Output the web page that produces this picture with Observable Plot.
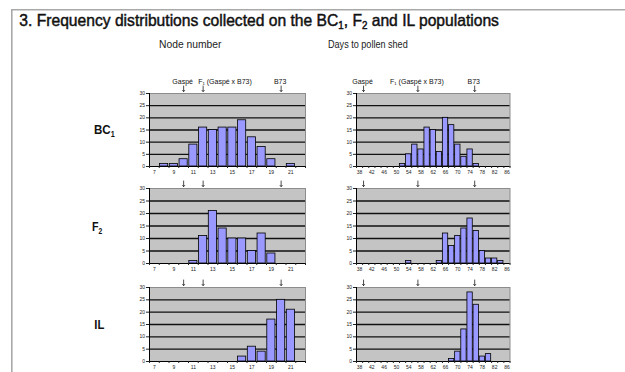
<!DOCTYPE html>
<html>
<head>
<meta charset="utf-8">
<script src="https://cdn.jsdelivr.net/npm/d3@7"></script>
<script src="https://cdn.jsdelivr.net/npm/@observablehq/plot@0.6"></script>
<style>
  html, body { margin: 0; padding: 0; background: #fff; }
  #root { position: relative; width: 625px; height: 372px; overflow: hidden; font-family: "Liberation Sans", Arial, sans-serif; }
  #root svg { position: absolute; }
</style>
</head>
<body>
<div id="root"></div>
<script>
// ---------- data ----------
const nodeCats = [7, 8, 9, 10, 11, 12, 13, 14, 15, 16, 17, 18, 19, 20, 21, 22];
const nodeTicks = [7, 9, 11, 13, 15, 17, 19, 21];
const dayCats = [38, 40, 42, 44, 46, 48, 50, 52, 54, 56, 58, 60, 62, 64, 66, 68, 70, 72, 74, 76, 78, 80, 82, 84, 86];
const dayTicks = [38, 42, 46, 50, 54, 58, 62, 66, 70, 74, 78, 82, 86];
const yTicks = [0, 5, 10, 15, 20, 25, 30];

const bc1Node = [0, 1, 1, 3, 9, 16, 15, 16, 16, 19, 12, 8, 3, 0, 1, 0];
const f2Node  = [0, 0, 0, 0, 1, 11, 21, 14, 10, 10, 5, 12, 4, 0, 0, 0];
const ilNode  = [0, 0, 0, 0, 0, 0, 0, 0, 0, 2, 6, 4, 17, 25, 21, 0];

const bc1Days = [0, 0, 0, 0, 0, 0, 0, 1, 5, 9, 7, 16, 15, 6, 20, 17, 9, 4, 7, 1, 0, 0, 0, 0, 0];
const f2Days  = [0, 0, 0, 0, 0, 0, 0, 0, 1, 0, 0, 0, 0, 1, 12, 7, 11, 14, 18, 13, 5, 2, 2, 1, 0];
const ilDays  = [0, 0, 0, 0, 0, 0, 0, 0, 0, 0, 0, 0, 0, 0, 0, 1, 4, 13, 28, 23, 2, 3, 0, 0, 0];

const parentNames = ["Gaspé", "F₁ (Gaspé x B73)", "B73"];
const nodeParents = [10, 12, 20];
const dayParents = [39.3, 57, 75.5];

const populations = [["BC", "1"], ["F", "2"], ["IL", ""]];
const columnTitles = ["Node number", "Days to pollen shed"];

// ---------- layout ----------
const W = 625, H = 372;
const FONT = "Liberation Sans, Arial, sans-serif";
const rows = [{y0: 92.7, h: 73}, {y0: 188.3, h: 75}, {y0: 287, h: 74}];
const cols = [{x0: 149.3, w: 156}, {x0: 356.2, w: 153.5}];
const root = document.getElementById("root");

const bg = d3.select(root).append("svg")
  .attr("width", W).attr("height", H)
  .style("left", "0px").style("top", "0px");

bg.append("path").attr("d", `M11.8,${H} V9.8 H${W}`)
  .attr("fill", "none").attr("stroke", "#a9a9a9").attr("stroke-width", 1.6);

function fit(sel, x, y, width) {
  const bb = sel.node().getBBox();
  const s = width / bb.width;
  sel.attr("transform", `translate(${x - bb.x * s},${y}) scale(${s},1)`);
}

// title
const title = bg.append("text").attr("font-family", FONT).attr("font-size", 16)
  .attr("fill", "#111").attr("stroke", "#111").attr("stroke-width", 0.45);
title.append("tspan").text("3. Frequency distributions collected on the BC");
title.append("tspan").attr("font-size", 10).attr("dy", 3).text("1");
title.append("tspan").attr("dy", -3).text(", F");
title.append("tspan").attr("font-size", 10).attr("dy", 3).text("2");
title.append("tspan").attr("dy", -3).text(" and IL populations");
fit(title, 19.3, 25.5, 480);

// column titles
const colTitleX = [159, 328], colTitleW = [63, 80];
columnTitles.forEach((s, i) => {
  const t = bg.append("text").attr("font-family", FONT).attr("font-size", 10.3).attr("fill", "#222").text(s);
  fit(t, colTitleX[i], 48, colTitleW[i]);
});

// row labels
const rowLabelX = [94, 92, 94.3], rowLabelW = [21, 10.5, 10];
populations.forEach(([main, sub], i) => {
  const t = bg.append("text").attr("font-family", FONT).attr("font-size", 13.5)
    .attr("font-weight", "bold").attr("fill", "#111");
  t.append("tspan").text(main);
  if (sub) t.append("tspan").attr("font-size", 8.5).attr("dy", 3).text(sub);
  fit(t, rowLabelX[i], rows[i].y0 + rows[i].h / 2 + 4.8, rowLabelW[i]);
});

// ---------- panels ----------
function panel(cats, vals, step, ticks, parents, row, col, withLabels, f1Start) {
  const half = step / 2;
  const data = cats.map((c, i) => ({c, v: vals[i]})).filter(d => d.v > 0);
  const domain = [cats[0] - half, cats[cats.length - 1] + half];
  const bounds = cats.map(c => c - half).concat([domain[1]]);
  const arrows = parents.map((x, i) => ({x, name: parentNames[i]}));
  const inset = step === 1 ? 0.8 : 0.4;
  const mt = withLabels ? 30 : 18, mb = 11, ml = 30, mr = 6;
  const {x0, w} = cols[col], {y0, h} = rows[row];
  const chart = Plot.plot({
    width: ml + w + mr, height: mt + h + mb,
    marginLeft: ml, marginRight: mr, marginTop: mt, marginBottom: mb,
    x: {domain},
    y: {domain: [0, 30]},
    style: {fontFamily: FONT, background: "transparent", overflow: "visible", color: "#222"},
    marks: [
      Plot.frame({fill: "#c4c4c4", stroke: "#8c8c8c"}),
      Plot.ruleY(yTicks.slice(1, -1), {stroke: "#111", strokeWidth: 1.3}),
      Plot.rectY(data, {x1: d => d.c - half, x2: d => d.c + half, y: "v",
        fill: "#9999ff", stroke: "#000", strokeWidth: 0.8, insetLeft: inset, insetRight: inset}),
      Plot.ruleY([0], {stroke: "#000", strokeWidth: 1}),
      Plot.ruleX([domain[0]], {stroke: "#000", strokeWidth: 1}),
      Plot.axisY(yTicks, {tickSize: 3, tickPadding: 1.5, fontSize: 5, label: null}),
      Plot.axisX(bounds, {tickSize: 2, tickFormat: () => "", label: null}),
      Plot.axisX(ticks, {tickSize: 0, tickPadding: 4, fontSize: 5, label: null}),
      Plot.vector(arrows, {x: "x", frameAnchor: "top", dy: -2, length: 5.5, rotate: 180,
        anchor: "end", stroke: "#000", strokeWidth: 0.7}),
      withLabels ? Plot.text(arrows.filter((d, i) => !(f1Start && i === 1)), {x: "x", text: "name",
        frameAnchor: "top", dy: -14.7, fontSize: 7, fill: "#111", dx: -1}) : null,
      withLabels && f1Start ? Plot.text(arrows.filter((d, i) => i === 1), {x: "x", text: "name",
        frameAnchor: "top", dy: -14.7, fontSize: 7, fill: "#111", textAnchor: "start", dx: -5}) : null
    ]
  });
  chart.style.position = "absolute";
  chart.style.left = (x0 - ml) + "px";
  chart.style.top = (y0 - mt) + "px";
  chart.style.maxWidth = "none";
  root.appendChild(chart);
}

panel(nodeCats, bc1Node, 1, nodeTicks, nodeParents, 0, 0, true, true);
panel(nodeCats, f2Node, 1, nodeTicks, nodeParents, 1, 0, false, true);
panel(nodeCats, ilNode, 1, nodeTicks, nodeParents, 2, 0, false, true);
panel(dayCats, bc1Days, 2, dayTicks, dayParents, 0, 1, true, false);
panel(dayCats, f2Days, 2, dayTicks, dayParents, 1, 1, false, false);
panel(dayCats, ilDays, 2, dayTicks, dayParents, 2, 1, false, false);
</script>
</body>
</html>
